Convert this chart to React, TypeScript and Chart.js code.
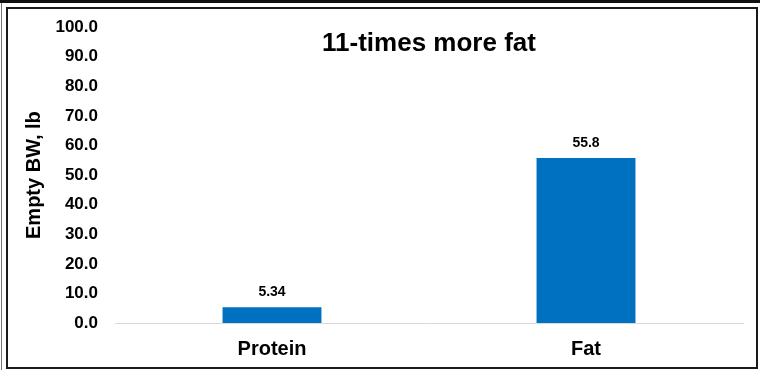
import React, { useEffect, useRef } from "react";
import { Chart, registerables } from "chart.js";

Chart.register(...registerables);

const categories = ["Protein", "Fat"];
const values = [5.34, 55.8];
const yTicks = [0, 10, 20, 30, 40, 50, 60, 70, 80, 90, 100];
const chartTitle = "11-times more fat";
const yAxisTitle = "Empty BW, lb";

const FONT = "'Liberation Sans', Arial, Helvetica, sans-serif";
const BAR_COLOR = "#0070C0";

// Draws the centred heading inside the plot area and the value above each bar.
const annotations = {
  id: "annotations",
  afterDatasetsDraw(chart: any) {
    const { ctx, chartArea } = chart;
    ctx.save();
    ctx.fillStyle = "#000";
    ctx.textAlign = "center";

    ctx.font = `bold 26px ${FONT}`;
    ctx.textBaseline = "middle";
    ctx.fillText(chartTitle, (chartArea.left + chartArea.right) / 2, 44);

    ctx.font = `bold 14px ${FONT}`;
    ctx.textBaseline = "bottom";
    const meta = chart.getDatasetMeta(0);
    meta.data.forEach((bar: any, i: number) => {
      ctx.fillText(String(values[i]), bar.x, bar.y - 8);
    });
    ctx.restore();
  },
};

export default function App() {
  const canvasRef = useRef<HTMLCanvasElement | null>(null);

  useEffect(() => {
    if (!canvasRef.current) return;
    const chart = new Chart(canvasRef.current, {
      type: "bar",
      data: {
        labels: categories,
        datasets: [
          {
            data: values,
            backgroundColor: BAR_COLOR,
            borderWidth: 0,
            barPercentage: 0.63,
            categoryPercentage: 0.5,
          },
        ],
      },
      options: {
        animation: false,
        responsive: false,
        maintainAspectRatio: false,
        layout: { padding: { left: 0, top: 23, right: 17, bottom: 0 } },
        plugins: {
          legend: { display: false },
          tooltip: { enabled: false },
          title: { display: false },
        },
        scales: {
          x: {
            grid: { display: false, drawTicks: false },
            border: { display: true, color: "#d9d9d9", width: 1 },
            ticks: {
              color: "#000",
              font: { family: FONT, size: 20, weight: "bold" },
              padding: 14,
            },
            afterFit(scale: any) {
              scale.height = 47;
            },
          },
          y: {
            min: 0,
            max: 100,
            afterBuildTicks(scale: any) {
              scale.ticks = yTicks.map((v) => ({ value: v }));
            },
            grid: { display: false, drawTicks: false },
            border: { display: false },
            ticks: {
              color: "#000",
              font: { family: FONT, size: 17, weight: "bold" },
              padding: 17,
              callback: (v: any) => Number(v).toFixed(1),
            },
            title: {
              display: true,
              text: yAxisTitle,
              color: "#000",
              font: { family: FONT, size: 20, weight: "bold" },
              padding: { top: 22, bottom: 0 },
            },
            afterFit(scale: any) {
              scale.width = 115;
            },
          },
        },
      },
      plugins: [annotations],
    });
    return () => chart.destroy();
  }, []);

  return (
    <div
      style={{
        position: "absolute",
        left: 0,
        top: 0,
        width: 760,
        height: 370,
        background: "#fff",
        overflow: "hidden",
      }}
    >
      <div style={{ position: "absolute", left: 0, top: 0, width: 760, height: 3, background: "#111" }} />
      <div style={{ position: "absolute", left: 1, top: 3, width: 1, height: 367, background: "#777" }} />
      <div
        style={{
          position: "absolute",
          left: 6,
          top: 7,
          width: 752,
          height: 362,
          boxSizing: "border-box",
          border: "2px solid #1a1a1a",
        }}
      />
      <canvas
        ref={canvasRef}
        width={760}
        height={370}
        style={{ position: "absolute", left: 0, top: 0, width: 760, height: 370 }}
      />
    </div>
  );
}
